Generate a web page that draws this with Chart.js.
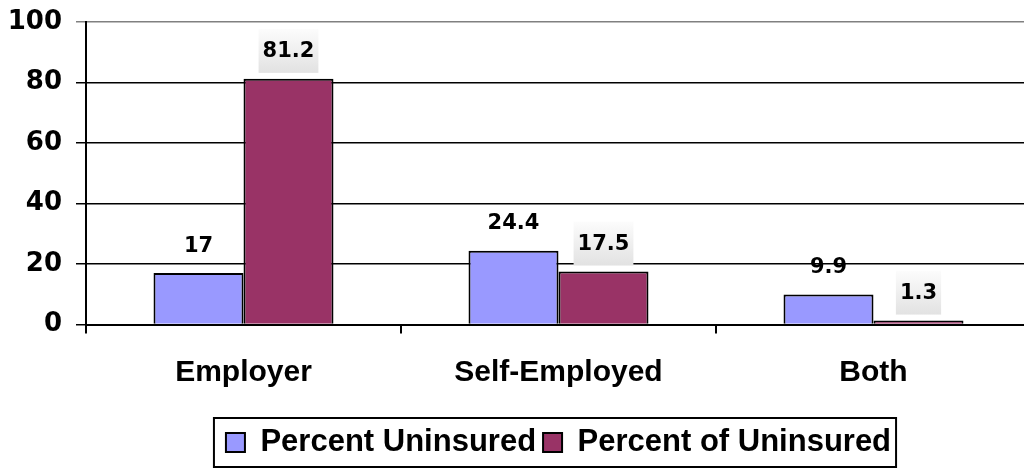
<!DOCTYPE html>
<html>
<head>
<meta charset="utf-8">
<script src="https://cdn.jsdelivr.net/npm/chart.js@4"></script>
<style>
  html, body { margin: 0; padding: 0; background: #fff; overflow: hidden; }
  canvas { display: block; }
</style>
</head>
<body>
<canvas id="grafica" width="1031" height="468"></canvas>
<script>
// 📋 DATOS
const categorias = ["Employer", "Self-Employed", "Both"];
const series = ["Percent Uninsured", "Percent of Uninsured"];
const porcentajeSinSeguro = [17, 24.4, 9.9];
const porcentajeDeSinSeguro = [81.2, 17.5, 1.3];
const ticksY = [0, 20, 40, 60, 80, 100];


// 🏷️ ETIQUETAS DE VALOR
const etiquetas = {
  id: 'etiquetas',
  afterDatasetsDraw(chart) {
    const ctx = chart.ctx;
    ctx.save();
    ctx.font = 'bold 21px "DejaVu Sans"';
    ctx.textAlign = 'center';
    ctx.textBaseline = 'middle';

    chart.data.datasets.forEach((ds, i) => {
      chart.getDatasetMeta(i).data.forEach((bar, j) => {
        const texto = String(ds.data[j]);
        const y = bar.y - 28;

        if (i === 1) {
          const w = ctx.measureText(texto).width + 8;
          const g = ctx.createLinearGradient(0, y - 22, 0, y + 22);
          g.addColorStop(0, '#fcfcfc');
          g.addColorStop(1, '#e2e2e2');
          ctx.fillStyle = g;
          ctx.fillRect(bar.x - w / 2, y - 22, w, 44);
        }

        ctx.fillStyle = '#000';
        ctx.fillText(texto, bar.x, y + 1);
      });
    });
    ctx.restore();
  }
};


// 🔲 MARCO DE LA LEYENDA
const marcoLeyenda = {
  id: 'marcoLeyenda',
  afterDraw(chart) {
    const cajas = chart.legend.legendHitBoxes;
    if (!cajas || !cajas.length) return;
    const ult = cajas[cajas.length - 1];
    const izq = cajas[0].left - 12;
    const der = ult.left + ult.width + 5;
    const arriba = 418;
    const abajo = 467;

    const ctx = chart.ctx;
    ctx.save();
    ctx.strokeStyle = '#000';
    ctx.lineWidth = 2;
    ctx.strokeRect(izq, arriba, der - izq, abajo - arriba);
    ctx.restore();
  }
};


// 📊 GRAFICA
const ctx = document.getElementById("grafica").getContext("2d");

new Chart(ctx, {
  type: 'bar',
  data: {
    labels: categorias,
    datasets: [
      {
        label: series[0],
        data: porcentajeSinSeguro,
        backgroundColor: '#9999ff',
        borderColor: '#000',
        borderWidth: 2,
        categoryPercentage: 0.5714,
        barPercentage: 1
      },
      {
        label: series[1],
        data: porcentajeDeSinSeguro,
        backgroundColor: '#993366',
        borderColor: '#000',
        borderWidth: 2,
        categoryPercentage: 0.5714,
        barPercentage: 1
      }
    ]
  },
  options: {
    responsive: false,
    animation: false,
    layout: {
      padding: { left: 0, right: 0, top: 22, bottom: 0 }
    },
    scales: {
      x: {
        offset: true,
        afterFit: axis => { axis.height += 8.5; },
        grid: {
          offset: true,
          drawOnChartArea: false,
          drawTicks: true,
          tickLength: 9,
          color: '#000',
          lineWidth: 2
        },
        border: { color: '#000', width: 2 },
        ticks: {
          color: '#000',
          padding: 21,
          font: { family: 'Liberation Sans', size: 30, weight: 'bold' }
        }
      },
      y: {
        min: 0,
        max: 100,
        afterFit: axis => {
          axis.width = 86;
          axis.paddingTop = 0;
          axis.paddingBottom = 0;
        },
        afterBuildTicks: axis => {
          axis.ticks = ticksY.map(v => ({ value: v }));
        },
        grid: {
          color: c => (c.tick && c.tick.value === 100) ? '#808080' : '#000',
          lineWidth: 1.5,
          tickLength: 10
        },
        border: { color: '#000', width: 2 },
        ticks: {
          color: '#000',
          padding: 14,
          font: { family: 'DejaVu Sans', size: 26, weight: 'bold' }
        }
      }
    },
    plugins: {
      tooltip: { enabled: false },
      legend: {
        position: 'bottom',
        fullSize: false,
        labels: {
          color: '#000',
          boxWidth: 19,
          boxHeight: 19,
          padding: 7,
          font: { family: 'Liberation Sans', size: 31, weight: 'bold' }
        }
      }
    }
  },
  plugins: [etiquetas, marcoLeyenda]
});
</script>
</body>
</html>
